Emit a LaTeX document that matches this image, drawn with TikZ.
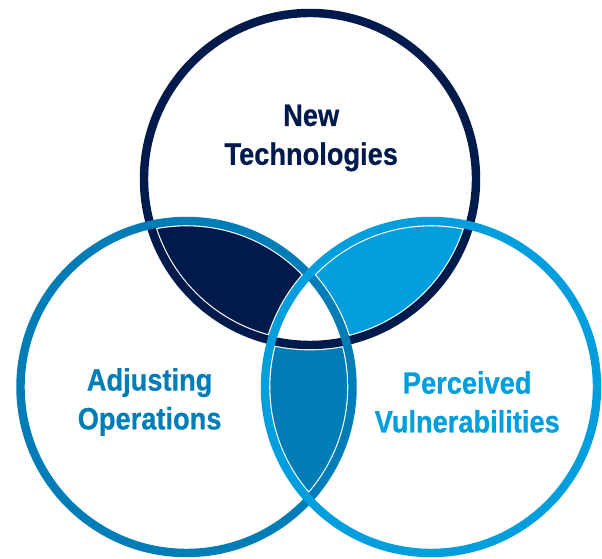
\documentclass[tikz,border=0pt]{standalone}
\usepackage{fontspec}
\newfontfamily\vennfont{Liberation Sans}[FakeStretch=0.88, FakeBold=0.6]
\definecolor{navyblue}{HTML}{001A4B}
\definecolor{midblue}{HTML}{007DB7}
\definecolor{lightblue}{HTML}{009EDD}

\begin{document}
\begin{tikzpicture}[
  ring/.style={line width=6pt},
  gap/.style={white, line width=7.6pt},
  setlabel/.style={align=center, font=\vennfont\bfseries\fontsize{22}{27.6}\selectfont}
]

\useasboundingbox (0,0) rectangle (15.05,13.95);

\coordinate (top) at (7.75,9.475);
\coordinate (left) at (4.6625,4.275);
\coordinate (right) at (10.775,4.275);

% overlaps of two sets only
\begin{scope}
\clip (top) circle (4.15);
\clip (left) circle (4.15);
\fill[navyblue, even odd rule] (0,0) rectangle (15.05,13.95) (right) circle (4.15);
\end{scope}
\begin{scope}
\clip (top) circle (4.15);
\clip (right) circle (4.15);
\fill[lightblue, even odd rule] (0,0) rectangle (15.05,13.95) (left) circle (4.15);
\end{scope}
\begin{scope}
\clip (left) circle (4.15);
\clip (right) circle (4.15);
\fill[midblue, even odd rule] (0,0) rectangle (15.05,13.95) (top) circle (4.15);
\end{scope}

% rings
\foreach \c in {top,left,right}
  \draw[gap] (\c) circle (4.15);
\draw[ring, navyblue] (top) circle (4.15);
\draw[ring, midblue] (left) circle (4.15);
\draw[ring, lightblue] (right) circle (4.15);

\node[setlabel, navyblue] (newtech) at (7.78,10.5) {New\\Technologies};
\node[setlabel, midblue] (adjops) at (3.74,3.9) {Adjusting\\Operations};
\node[setlabel, lightblue] (percvul) at (11.68,3.9) {Perceived\\Vulnerabilities};

\end{tikzpicture}
\end{document}
